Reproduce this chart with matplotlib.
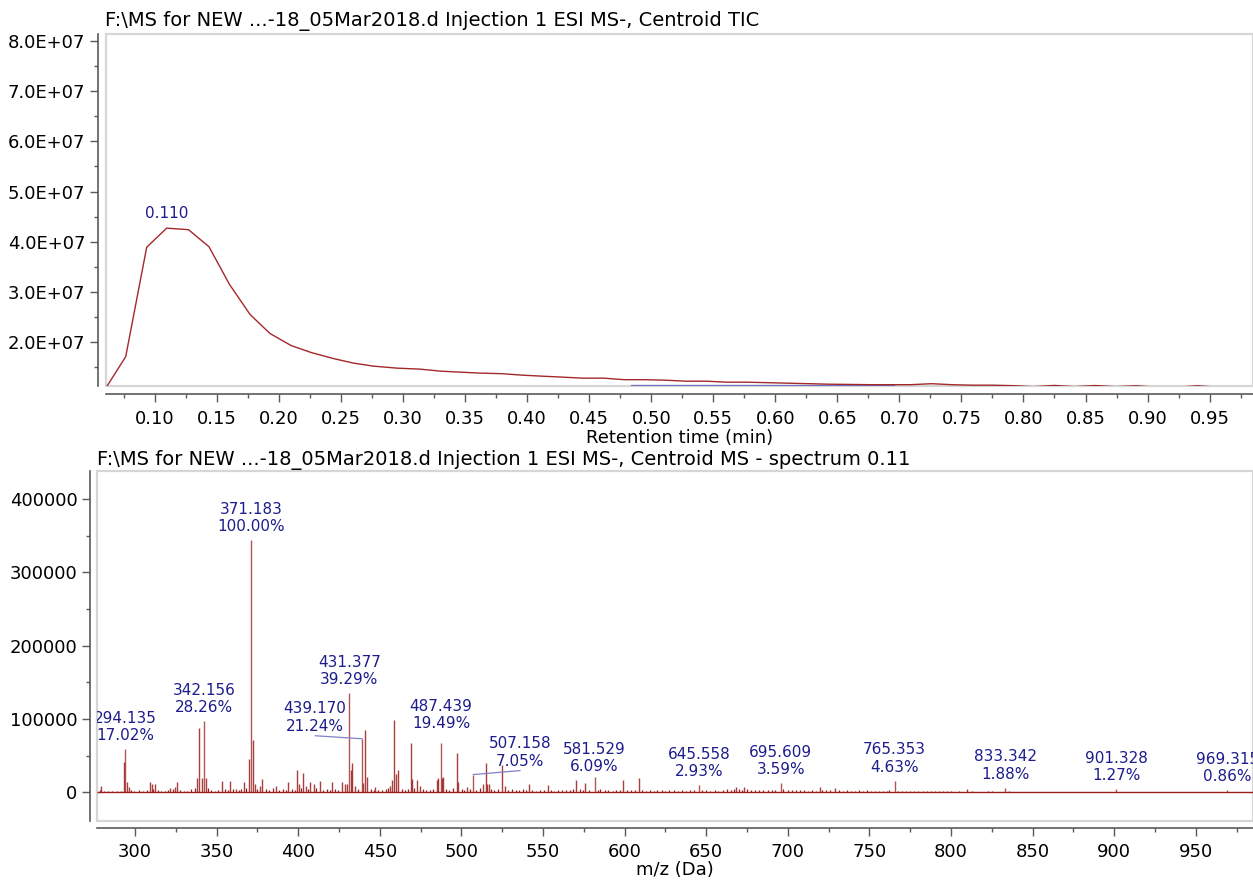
import matplotlib
matplotlib.use("Agg")
import matplotlib.pyplot as plt
from matplotlib.ticker import MultipleLocator, FuncFormatter, FormatStrFormatter
from matplotlib.patches import Rectangle
import matplotlib.transforms as mtransforms

plt.rcParams['font.family'] = ['DejaVu Sans']

# ---------------- data ----------------
title_tic = "F:\\MS for NEW ...-18_05Mar2018.d Injection 1 ESI MS-, Centroid TIC"
title_ms = "F:\\MS for NEW ...-18_05Mar2018.d Injection 1 ESI MS-, Centroid MS - spectrum 0.11"

tic_time = [0.0613, 0.0764, 0.0933, 0.1094, 0.127, 0.1435, 0.160, 0.1766, 0.1927,
            0.2097, 0.226, 0.244, 0.260, 0.276, 0.295, 0.3137, 0.330, 0.346, 0.363,
            0.379, 0.396, 0.412, 0.429, 0.445, 0.462, 0.478, 0.495, 0.511, 0.528,
            0.544, 0.561, 0.577, 0.594, 0.610, 0.627, 0.643, 0.660, 0.676, 0.693,
            0.709, 0.726, 0.742, 0.759, 0.775, 0.792, 0.808, 0.825, 0.841, 0.858,
            0.874, 0.891, 0.907, 0.924, 0.940, 0.957, 0.973]
tic_int = [1.12e7, 1.71e7, 3.89e7, 4.27e7, 4.24e7, 3.90e7, 3.15e7, 2.55e7, 2.17e7,
           1.93e7, 1.79e7, 1.67e7, 1.58e7, 1.52e7, 1.48e7, 1.46e7, 1.42e7, 1.40e7, 1.38e7,
           1.37e7, 1.34e7, 1.32e7, 1.30e7, 1.28e7, 1.28e7, 1.25e7, 1.25e7, 1.24e7, 1.22e7,
           1.22e7, 1.20e7, 1.20e7, 1.19e7, 1.18e7, 1.17e7, 1.16e7, 1.155e7, 1.15e7, 1.15e7,
           1.15e7, 1.17e7, 1.15e7, 1.14e7, 1.14e7, 1.13e7, 1.11e7, 1.135e7, 1.11e7, 1.133e7,
           1.11e7, 1.128e7, 1.10e7, 1.10e7, 1.128e7, 1.10e7, 1.10e7]
tic_peak_label = "0.110"
tic_peak_time = 0.1094
tic_peak_int = 4.27e7
baseline_time = [0.484, 0.696]
baseline_int = [1.145e7, 1.145e7]

base_peak_int = 344000
label_mz = [294.135, 342.156, 371.183, 431.377, 439.170, 487.439, 507.158,
            581.529, 645.558, 695.609, 765.353, 833.342, 901.328, 969.315]
label_pct = [17.02, 28.26, 100.00, 39.29, 21.24, 19.49, 7.05,
             6.09, 2.93, 3.59, 4.63, 1.88, 1.27, 0.86]

other_mz = [279.2, 293.0, 295.3, 296.5, 309.2, 310.2, 312.3, 321.4, 324.6, 326.0,
            337.8, 339.0, 341.0, 343.5, 353.0, 358.2, 362.0, 366.9, 370.0, 372.1,
            373.5, 376.8, 378.0, 386.6, 394.0, 399.1, 400.7, 403.1, 404.8, 407.2,
            409.6, 413.4, 420.9, 426.6, 428.7, 430.0, 432.2, 433.2, 434.8, 439.9,
            441.1, 442.3, 447.0, 456.3, 457.7, 458.9, 459.9, 461.0, 468.9, 469.9,
            472.5, 474.6, 484.8, 485.8, 487.9, 488.9, 497.1, 498.1, 503.2, 513.0,
            514.9, 515.9, 516.9, 525.0, 526.6, 541.6, 552.8, 570.2, 576.0, 599.0,
            608.6, 668.0, 673.0, 719.6, 728.9, 810.0]
other_int = [8500, 41000, 14000, 7000, 14000, 11000, 12000, 6000, 8000, 14000,
             19000, 88000, 19000, 19000, 15000, 16000, 5000, 14000, 46000, 71000,
             12000, 9000, 18000, 9000, 14000, 31000, 12000, 26000, 9000, 14000,
             12000, 15000, 14000, 14000, 12000, 12000, 31000, 40000, 9000, 13000,
             85000, 21000, 7000, 9000, 17000, 99000, 25000, 30000, 67000, 18000,
             17000, 9000, 17000, 19000, 19000, 21000, 53000, 14000, 7000, 12000,
             39500, 12000, 12000, 37000, 9000, 11000, 10000, 17000, 13000, 17000,
             19000, 7000, 8000, 7000, 6000, 5000]

noise_mz = [278.4, 281.2, 283.7, 286.1, 288.9, 291.3, 297.8, 299.6, 302.4, 304.9,
            307.2, 311.1, 313.8, 316.0, 318.5, 320.1, 323.3, 327.4, 329.9, 332.1,
            334.6, 336.5, 344.9, 346.7, 349.2, 351.1, 355.0, 357.0, 360.2, 363.9,
            365.1, 368.3, 374.6, 380.1, 382.0, 384.3, 388.2, 390.5, 392.7, 396.2,
            398.0, 402.0, 405.9, 411.1, 415.2, 417.8, 419.3, 422.6, 424.4, 436.5,
            444.5, 446.2, 449.0, 451.6, 453.8, 455.1, 463.4, 465.2, 467.1, 471.0,
            476.3, 478.2, 480.5, 482.6, 490.7, 492.4, 494.9, 500.1, 501.6, 505.2,
            509.0, 511.3, 518.4, 520.1, 522.6, 528.3, 530.7, 533.2, 535.0, 537.6,
            539.4, 543.5, 545.8, 548.0, 550.6, 554.7, 556.9, 559.3, 561.6, 564.0,
            566.5, 568.1, 572.8, 574.6, 578.3, 583.4, 585.2, 587.9, 590.1, 592.6,
            595.0, 597.2, 601.4, 603.9, 606.2, 610.5, 612.8, 615.3, 617.7, 620.1,
            622.6, 625.0, 627.4, 630.2, 632.5, 635.1, 637.6, 640.0, 642.3, 647.4,
            650.0, 652.5, 655.1, 657.5, 660.2, 662.6, 665.0, 666.8, 670.3, 672.1,
            675.0, 677.3, 680.1, 682.4, 685.0, 687.6, 690.2, 692.4, 697.3, 699.8,
            702.4, 705.0, 707.3, 710.1, 712.5, 715.0, 717.4, 721.2, 723.6, 726.0,
            731.4, 733.8, 736.2, 738.7, 741.1, 743.6, 746.0, 748.5, 750.9, 753.3,
            755.8, 758.2, 760.6, 762.1, 767.4, 770.0, 772.5, 775.1, 777.4, 780.0,
            782.6, 785.0, 787.5, 790.1, 792.5, 795.0, 797.6, 800.2, 802.6, 805.1,
            807.5, 812.6, 815.0, 817.5, 820.1, 822.6, 825.0, 827.5, 830.1, 835.2,
            837.6, 840.1, 842.6, 845.0, 847.6, 850.1, 852.5, 855.0, 857.6, 860.1,
            862.5, 865.0, 867.6, 870.1, 872.5, 875.0, 877.6, 880.1, 882.5, 885.0,
            887.6, 890.1, 892.5, 895.0, 897.6, 903.5, 906.0, 908.6, 911.1, 913.5,
            916.0, 918.6, 921.1, 923.5, 926.0, 928.6, 931.1, 933.5, 936.0, 938.6,
            941.1, 943.5, 946.0, 948.6, 951.1, 953.5, 956.0, 958.6, 961.1, 963.5,
            966.0, 971.4, 974.0, 976.5, 979.1, 981.5, 984.0]
noise_int = [3000, 1500, 2200, 1200, 1800, 2500, 3500, 2000, 2800, 1500,
             2600, 4000, 3000, 2200, 1600, 3500, 4500, 3000, 2500, 1800,
             4200, 5500, 6000, 3000, 2200, 2600, 5000, 3000, 4500, 3500,
             4000, 6000, 5000, 4000, 3000, 5500, 3800, 4200, 3000, 5000,
             3500, 6000, 4000, 5500, 3000, 4500, 3800, 5000, 3500, 4500,
             4000, 3200, 3800, 2800, 4000, 5500, 4800, 3500, 4000, 6000,
             4500, 3000, 3800, 5000, 4200, 3000, 5500, 4000, 3000, 4500,
             3500, 6000, 5000, 3500, 4000, 3000, 4500, 3800, 3000, 4200,
             3500, 3000, 2500, 3500, 2800, 3200, 2400, 3000, 2600, 3500,
             2800, 4000, 5000, 3000, 3500, 3000, 4500, 2800, 3200, 2500,
             3800, 3000, 3500, 2600, 3000, 3200, 2400, 2800, 2200, 3000,
             3500, 2400, 2800, 3300, 2200, 3000, 2500, 2800, 3500, 2600,
             3000, 2400, 3800, 2500, 3000, 4000, 3500, 5000, 4800, 3500,
             4200, 3000, 3500, 2800, 3200, 2600, 3800, 3000, 4000, 3000,
             2600, 3500, 2800, 3200, 2500, 3000, 2400, 2800, 3500, 2600,
             3000, 2200, 2600, 2000, 2500, 3000, 2200, 2600, 2000, 2400,
             1800, 2200, 2500, 3200, 2400, 2000, 1800, 2200, 1600, 2000,
             1500, 1800, 1400, 1600, 1300, 1500, 1200, 1400, 1100, 1300,
             1000, 1200, 1000, 1100, 900, 1200, 1800, 1000, 1100, 1400,
             1000, 900, 1100, 800, 1000, 800, 900, 700, 900, 700,
             800, 600, 800, 1000, 700, 800, 600, 700, 600, 800,
             600, 700, 500, 700, 600, 800, 600, 700, 500, 600,
             500, 700, 500, 600, 500, 600, 450, 550, 450, 600,
             450, 500, 400, 500, 400, 450, 400, 500, 400, 450,
             400, 450, 400, 350, 400, 350, 300]

# ---------------- figure ----------------
W, H = 1253, 881
fig = plt.figure(figsize=(W / 100, H / 100), dpi=100)

ax1 = fig.add_axes([106 / W, 1 - 386 / H, (W - 106) / W, (386 - 34) / H])
ax2 = fig.add_axes([97 / W, 1 - 821 / H, (W - 97) / W, (821 - 471) / H])

stem_col = '#9a1c1c'
label_col = '#1c1c8c'
axis_col = '#5a5a5a'

def style_axes(ax, off):
    for s in ('top', 'right'):
        ax.spines[s].set_visible(False)
    for s in ('left', 'bottom'):
        ax.spines[s].set_position(('outward', off))
        ax.spines[s].set_color(axis_col)
        ax.spines[s].set_linewidth(1.2)
    ax.add_patch(Rectangle((0, 0), 1, 1, transform=ax.transAxes, fill=False,
                           ec='#d6d6d6', lw=1.6, clip_on=False, zorder=0))
    ax.tick_params(which='major', length=6, width=1, color=axis_col,
                   labelsize=13, pad=3)
    ax.tick_params(which='minor', length=3, width=1, color=axis_col)
    ax.tick_params(axis='x', which='major', pad=5)

# ---- TIC ----
style_axes(ax1, 6)
ax1.plot(tic_time, tic_int, color='#a3282a', lw=1.0, zorder=3)
ax1.plot(baseline_time, baseline_int, color='#6f6fc4', lw=0.9, zorder=2)
ax1.set_xlim(0.0605, 0.985)
ax1.set_ylim(1.124e7, 8.14e7)
ax1.xaxis.set_major_locator(MultipleLocator(0.05))
ax1.xaxis.set_minor_locator(MultipleLocator(0.025))
ax1.xaxis.set_major_formatter(FormatStrFormatter('%.2f'))
ax1.yaxis.set_major_locator(MultipleLocator(1e7))
ax1.yaxis.set_minor_locator(MultipleLocator(5e6))
ax1.yaxis.set_major_formatter(FuncFormatter(lambda v, p: f"{v / 1e7:.1f}E+07"))
ax1.set_xlabel("Retention time (min)", fontsize=13, labelpad=1)
tr = mtransforms.offset_copy(ax1.transData, fig=fig, x=0, y=7, units='dots')
ax1.text(tic_peak_time, tic_peak_int, tic_peak_label, transform=tr, ha='center',
         va='bottom', color=label_col, fontsize=11)

# ---- MS spectrum ----
style_axes(ax2, 5)
ax2.set_xlim(276.7, 985)
ax2.set_ylim(-39000, 437900)
ax2.hlines(0, 276.7, 985, color=stem_col, lw=1.0, zorder=2)
ax2.vlines(noise_mz, 0, noise_int, color=stem_col, lw=0.9, zorder=2)
ax2.vlines(other_mz, 0, other_int, color=stem_col, lw=1.0, alpha=0.85, zorder=3)
label_int = [p / 100 * base_peak_int for p in label_pct]
ax2.vlines(label_mz, 0, label_int, color=stem_col, lw=1.0, alpha=0.75, zorder=3)

# label placement offsets in pixels (dx, dy) and leader lines
offsets = {439.170: (-47, 5), 487.439: (0, 12), 507.158: (47, 6), 581.529: (0, 3)}
leaders = {439.170: (-47, 3), 507.158: (47, 4)}
for mz, pct, inten in zip(label_mz, label_pct, label_int):
    dx, dy = offsets.get(mz, (0, 6))
    tr = mtransforms.offset_copy(ax2.transData, fig=fig, x=dx, y=dy, units='dots')
    ax2.text(mz, inten, f"{mz:.3f}\n{pct:.2f}%", transform=tr, ha='center',
             va='bottom', color=label_col, fontsize=11, linespacing=1.2,
             clip_on=True, zorder=5)
    if mz in leaders:
        lx, ly = leaders[mz]
        ax2.annotate('', xy=(mz, inten), xytext=(lx, ly), textcoords='offset pixels',
                     arrowprops=dict(arrowstyle='-', color='#8080c8', lw=0.9,
                                     shrinkA=0, shrinkB=0))

ax2.xaxis.set_major_locator(MultipleLocator(50))
ax2.xaxis.set_minor_locator(MultipleLocator(25))
ax2.yaxis.set_major_locator(MultipleLocator(100000))
ax2.yaxis.set_minor_locator(MultipleLocator(50000))
ax2.yaxis.set_major_formatter(FuncFormatter(lambda v, p: f"{int(round(v))}"))
ax2.set_xlabel("m/z (Da)", fontsize=13, labelpad=0)

fig.text(105 / W, 1 - 21 / H, title_tic, ha='left', va='center', fontsize=14)
fig.text(97 / W, 1 - 460 / H, title_ms, ha='left', va='center', fontsize=14)

fig.savefig("out.png", dpi=100)
